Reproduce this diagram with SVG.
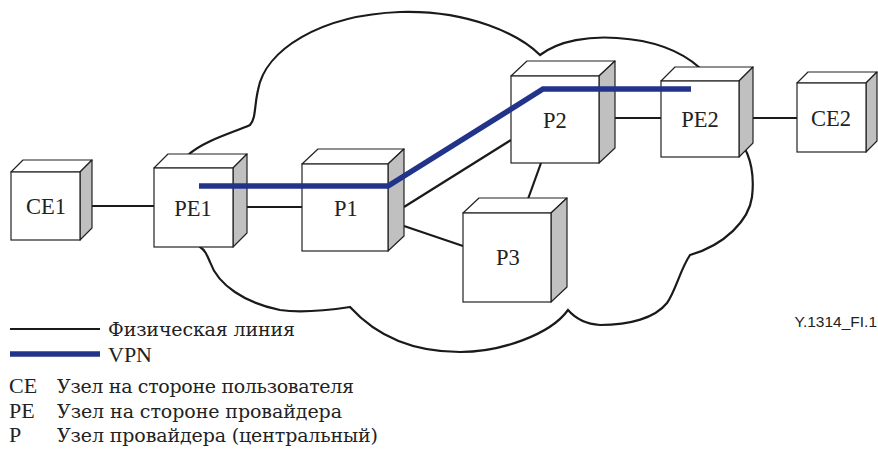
<svg xmlns="http://www.w3.org/2000/svg" width="878" height="455" viewBox="0 0 878 455">
<style>
.cloud{fill:none;stroke:#1a1a1a;stroke-width:2.2}
.phys{stroke:#1a1a1a;stroke-width:2.2;fill:none}
.vpn{stroke:#22348a;stroke-width:5.5;fill:none}
.front{fill:#fff;stroke:#222;stroke-width:1.2}
.top{fill:#fff;stroke:#222;stroke-width:1.2;stroke-linejoin:round}
.side{fill:#c0c0c0;stroke:#222;stroke-width:1.2;stroke-linejoin:round}
.lbl{font-family:'Liberation Serif','Times New Roman',serif;font-size:22.5px;fill:#222;text-anchor:middle}
.leg{font-family:'Liberation Serif','Times New Roman',serif;font-size:22px;fill:#222}
.cyr{font-family:'DejaVu Serif','Liberation Serif',serif;font-size:19px;fill:#222}
.ref{font-family:'Liberation Sans',Arial,sans-serif;font-size:15.5px;fill:#222}
</style>
<path id="cloud" class="cloud" d="M188,155 C205,140 235,132 250,125 C256,118 254,108 258,90 C265,50 320,15 400,12 C470,10 520,35 540,55 C560,40 590,36 617,38 C650,40 680,50 700,68 L747,153 C752,165 754,180 752,197 C749,220 725,245 690,255 C680,270 676,290 667,303 C655,318 630,325 600,325 C585,324 575,318 568,310 C550,335 500,352 460,352 C420,352 380,340 350,307 C330,310 300,313 280,310 C245,303 218,285 210,262 C207,255 205,250 200,247 Z"/>
<g id="connectors">
<line class="phys" x1="92" y1="206" x2="154" y2="206"/>
<line class="phys" x1="247" y1="207" x2="302" y2="207"/>
<line class="phys" x1="404" y1="207" x2="511" y2="140"/>
<line class="phys" x1="404" y1="226" x2="463" y2="246"/>
<line class="phys" x1="541" y1="163" x2="528" y2="199"/>
<line class="phys" x1="615" y1="118" x2="661" y2="118"/>
<line class="phys" x1="753" y1="118" x2="797" y2="118"/>
</g>
<g id="CE1">
<polygon class="top" points="11,172 23,160 92,160 80,172"/>
<polygon class="side" points="80,172 92,160 92,228 80,240"/>
<rect class="front" x="11" y="172" width="69" height="68"/>
<text class="lbl" x="46" y="214">CE1</text>
</g>
<g id="PE1">
<polygon class="top" points="154,168 168,154 247,154 233,168"/>
<polygon class="side" points="233,168 247,154 247,233 233,247"/>
<rect class="front" x="154" y="168" width="79" height="79"/>
<text class="lbl" x="193" y="216">PE1</text>
</g>
<g id="P1">
<polygon class="top" points="302,164 318,149 404,149 388,164"/>
<polygon class="side" points="388,164 404,149 404,236 388,251"/>
<rect class="front" x="302" y="164" width="86" height="87"/>
<text class="lbl" x="346" y="216">P1</text>
</g>
<g id="P2">
<polygon class="top" points="511,76 527,61 615,61 599,76"/>
<polygon class="side" points="599,76 615,61 615,148 599,163"/>
<rect class="front" x="511" y="76" width="88" height="87"/>
<text class="lbl" x="555" y="128">P2</text>
</g>
<g id="PE2">
<polygon class="top" points="661,81 675,67 753,67 739,81"/>
<polygon class="side" points="739,81 753,67 753,143 739,157"/>
<rect class="front" x="661" y="81" width="78" height="76"/>
<text class="lbl" x="700" y="127">PE2</text>
</g>
<g id="CE2">
<polygon class="top" points="797,83 808,72 877,72 866,83"/>
<polygon class="side" points="866,83 877,72 877,141 866,152"/>
<rect class="front" x="797" y="83" width="69" height="69"/>
<text class="lbl" x="831" y="126">CE2</text>
</g>
<g id="P3">
<polygon class="top" points="463,213 479,198 567,198 551,213"/>
<polygon class="side" points="551,213 567,198 567,287 551,302"/>
<rect class="front" x="463" y="213" width="88" height="89"/>
<text class="lbl" x="508" y="265">P3</text>
</g>
<g id="vpn-path">
<polyline class="vpn" points="199,186 388,186 543,89 691,89"/>
</g>
<g id="legend">
<line class="phys" x1="10" y1="329" x2="100" y2="329"/>
<text class="cyr" x="108" y="336" textLength="187">Физическая линия</text>
<line class="vpn" x1="10" y1="354" x2="100" y2="354"/>
<text class="leg" x="108" y="362">VPN</text>
<text class="leg" x="9" y="393">CE</text>
<text class="cyr" x="57" y="393" textLength="297">Узел на стороне пользователя</text>
<text class="leg" x="9" y="418">PE</text>
<text class="cyr" x="57" y="418" textLength="285">Узел на стороне провайдера</text>
<text class="leg" x="9" y="442">P</text>
<text class="cyr" x="57" y="442" textLength="321">Узел провайдера (центральный)</text>
</g>
<text class="ref" x="877" y="327" text-anchor="end">Y.1314_FI.1</text>
</svg>
